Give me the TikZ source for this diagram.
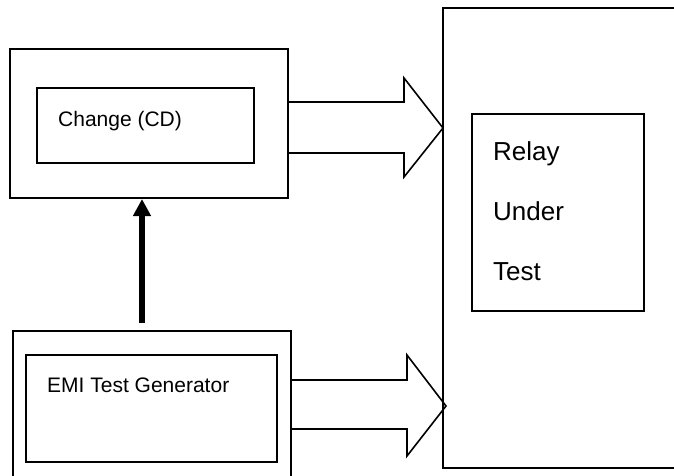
\documentclass[tikz,border=0pt]{standalone}
\usepackage{fontspec}
\setmainfont{Liberation Sans}
\usetikzlibrary{arrows.meta}
\begin{document}
\begin{tikzpicture}[x=1pt,y=-1pt,
  outerbox/.style={draw,rectangle,line width=2pt,inner sep=0pt},
  innerbox/.style={draw,rectangle,line width=1.6pt,inner sep=0pt},
  lbl/.style={anchor=base west,inner sep=0pt,font=\fontsize{21}{25}\selectfont},
  biglbl/.style={anchor=base west,inner sep=0pt,font=\fontsize{26}{30}\selectfont},
  blockarrow/.style={draw,line width=1.6pt,line join=miter},
  thickarrow/.style={line width=5.5pt,-{Triangle[width=17pt,length=17pt]}}]
\clip (0,0) rectangle (674,476);
% boxes
\node[outerbox,minimum width=278pt,minimum height=149pt] (chg) at (149,123.5) {};
\node[innerbox,minimum width=217pt,minimum height=75pt] (chgin) at (145.5,125.5) {};
\node[outerbox,minimum width=237pt,minimum height=460pt] (rut) at (561.5,238) {};
\node[innerbox,minimum width=172pt,minimum height=197pt] (relay) at (558,212.5) {};
\node[outerbox,minimum width=278pt,minimum height=154pt] (emi) at (152,408) {};
\node[innerbox,minimum width=251pt,minimum height=107pt] (emiin) at (151.5,408.5) {};
% labels
\node[lbl] (tchg) at (58,127) {Change (CD)};
\node[lbl] (temi) at (47,392) {EMI Test Generator};
\node[biglbl] (t1) at (493,160) {Relay};
\node[biglbl] (t2) at (493,220) {Under};
\node[biglbl] (t3) at (493,280) {Test};
% helper coordinates
\coordinate (a1t) at (0,102);
\coordinate (a1b) at (0,153);
\coordinate (tip1) at (443,128);
\coordinate (a2t) at (0,380);
\coordinate (a2b) at (0,429);
\coordinate (tip2) at (446,406);
% block arrows
\draw[blockarrow] (chg.east |- a1t) -- (404,102) -- (404,78) -- (tip1)
  -- (404,177) -- (404,153) -- (chg.east |- a1b);
\draw[blockarrow] (emi.east |- a2t) -- (407,380) -- (407,355) -- (tip2)
  -- (407,456) -- (407,429) -- (emi.east |- a2b);
% thick arrow
\draw[thickarrow] ([xshift=-10pt,yshift=7pt]emi.north) -- ([xshift=-7pt]chg.south);
\end{tikzpicture}
\end{document}
